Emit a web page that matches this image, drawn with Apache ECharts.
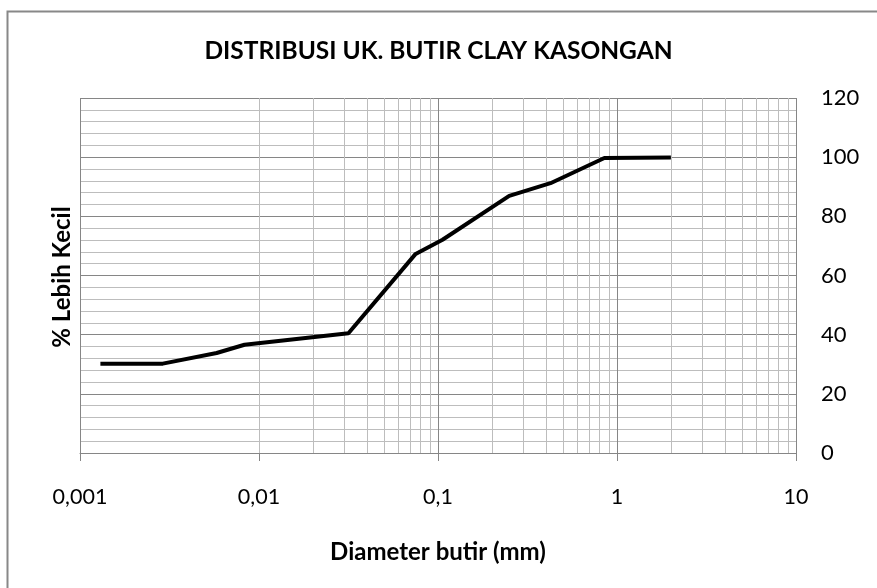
<!DOCTYPE html>
<html>
<head>
<meta charset="utf-8">
<script src="https://cdn.jsdelivr.net/npm/echarts@6/dist/echarts.min.js"></script>
<style>
  html, body { margin: 0; padding: 0; background: #fff; }
  #chart { width: 877px; height: 588px; }
</style>
</head>
<body>
<div id="chart"></div>
<script>
// diameter (mm) and % passing
const diameter = [0.0013, 0.0029, 0.0058, 0.0083, 0.0316, 0.075, 0.106, 0.25, 0.425, 0.85, 2.0];
const percentFiner = [30.2, 30.2, 33.8, 36.6, 40.5, 67.3, 72.1, 86.9, 91.2, 99.7, 99.9];
const xTickLabels = { 0.001: "0,001", 0.01: "0,01", 0.1: "0,1", 1: "1", 10: "10" };
// minor log gridlines 2..9 of each decade
const decades = [0.001, 0.01, 0.1, 1];
const minorSteps = [2, 3, 4, 5, 6, 7, 8, 9];

const FONT = "Lato";
const chart = echarts.init(document.getElementById("chart"));

const minorLines = [];
decades.forEach(function (d) {
  minorSteps.forEach(function (m) {
    minorLines.push({ xAxis: +(d * m).toPrecision(3) });
  });
});

chart.setOption({
  animation: false,
  title: {
    text: "DISTRIBUSI UK. BUTIR CLAY KASONGAN",
    left: "center",
    top: 34,
    textStyle: {
      fontFamily: FONT,
      fontSize: 24.5,
      fontWeight: "bold",
      color: "#000",
    },
  },
  graphic: [
    {
      type: "rect",
      shape: { x: 7.5, y: 11.5, width: 900, height: 600 },
      style: { fill: "none", stroke: "#888", lineWidth: 2 },
      silent: true,
    },
    {
      type: "text",
      x: 62,
      y: 277,
      rotation: Math.PI / 2,
      style: {
        text: "% Lebih Kecil",
        fontFamily: FONT,
        fontSize: 24,
        fontWeight: "bold",
        fill: "#000",
        align: "center",
        verticalAlign: "middle",
      },
    },
  ],
  grid: {
    left: 80,
    right: 81,
    top: 98,
    bottom: 135,
  },
  xAxis: {
    type: "log",
    min: 0.001,
    max: 10,
    logBase: 10,
    name: "Diameter butir (mm)",
    nameLocation: "middle",
    nameGap: 87,
    nameTextStyle: {
      fontFamily: FONT,
      fontSize: 24,
      fontWeight: "bold",
      color: "#000",
    },
    axisLine: { show: true, lineStyle: { color: "#868686", width: 1 } },
    axisTick: { show: true, inside: false, length: 8, lineStyle: { color: "#868686" } },
    axisLabel: {
      margin: 33,
      fontFamily: FONT,
      fontSize: 21.5,
      color: "#000",
      formatter: function (v) {
        return xTickLabels[v] !== undefined ? xTickLabels[v] : "";
      },
    },
    splitLine: { show: true, lineStyle: { color: "#868686", width: 1 } },
  },
  yAxis: {
    type: "value",
    position: "right",
    min: 0,
    max: 120,
    interval: 20,
    axisLine: { show: false },
    axisTick: { show: false },
    axisLabel: {
      margin: 25,
      fontFamily: FONT,
      fontSize: 22,
      color: "#000",
    },
    splitLine: { show: true, lineStyle: { color: "#868686", width: 1 } },
    minorTick: { show: false, splitNumber: 5 },
    minorSplitLine: { show: true, lineStyle: { color: "#bdbdbd", width: 1 } },
  },
  series: [
    {
      type: "line",
      data: [],
      z: 1,
      silent: true,
      markLine: {
        silent: true,
        symbol: "none",
        label: { show: false },
        lineStyle: { color: "#bdbdbd", width: 1, type: "solid" },
        data: minorLines,
      },
    },
    {
      type: "line",
      z: 5,
      data: diameter.map(function (d, i) { return [d, percentFiner[i]]; }),
      showSymbol: false,
      symbol: "none",
      lineStyle: { color: "#000", width: 4 },
    },
  ],
});
</script>
</body>
</html>
